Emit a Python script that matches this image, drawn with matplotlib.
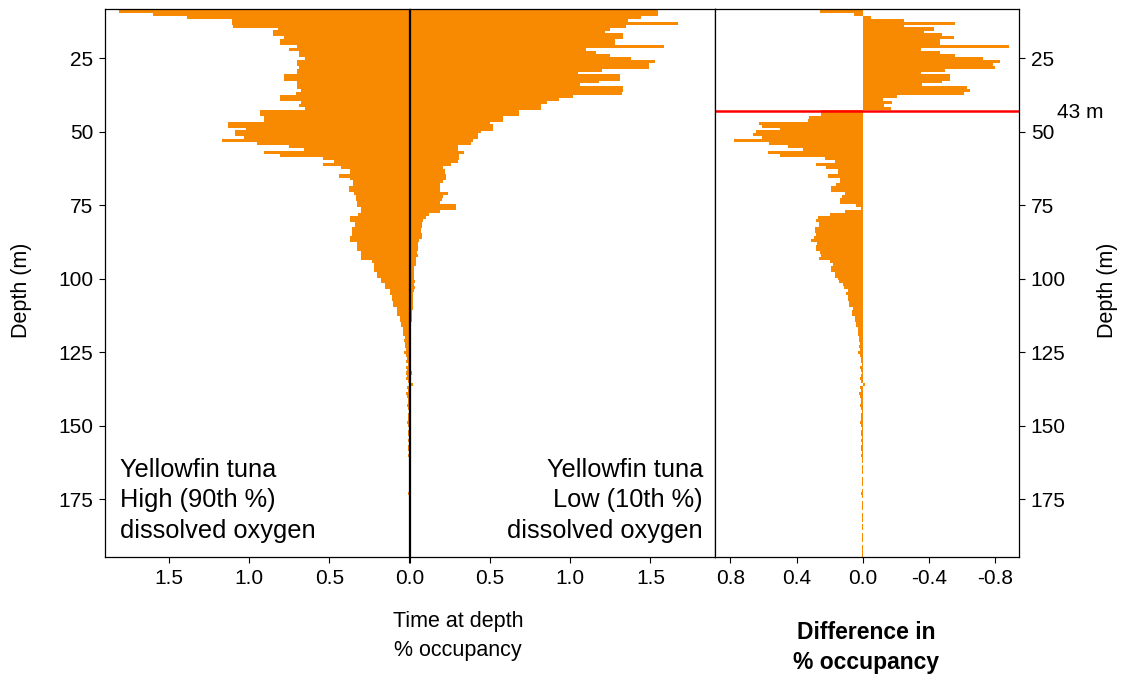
import numpy as np
import matplotlib.pyplot as plt

plt.rcParams['font.family'] = ['Liberation Sans', 'DejaVu Sans']

# 1 m depth bins
depth = np.arange(9, 195)

# % time at depth, yellowfin tuna, high (90th %) dissolved oxygen
high_do = [
    1.81, 1.60, 1.39, 1.11, 1.11, 1.10, 0.82, 0.85, 0.85, 0.78,
    0.81, 0.81, 0.70, 0.75, 0.69, 0.69, 0.65, 0.70, 0.70, 0.69,
    0.70, 0.70, 0.78, 0.78, 0.70, 0.70, 0.70, 0.68, 0.71, 0.81,
    0.81, 0.68, 0.69, 0.65, 0.93, 0.93, 0.91, 0.91, 1.13, 1.13,
    1.02, 1.09, 1.09, 1.03, 1.17, 0.95, 0.75, 0.66, 0.91, 0.81,
    0.54, 0.47, 0.54, 0.43, 0.37, 0.37, 0.44, 0.37, 0.35, 0.35,
    0.38, 0.38, 0.345, 0.335, 0.335, 0.33, 0.33, 0.30, 0.30, 0.32,
    0.37, 0.37, 0.34, 0.34, 0.36, 0.36, 0.36, 0.37, 0.37, 0.33,
    0.33, 0.33, 0.305, 0.305, 0.305, 0.235, 0.22, 0.22, 0.22, 0.20,
    0.20, 0.18, 0.18, 0.15, 0.15, 0.12, 0.12, 0.11, 0.11, 0.10,
    0.10, 0.08, 0.08, 0.08, 0.06, 0.06, 0.05, 0.05, 0.04, 0.04,
    0.04, 0.03, 0.035, 0.025, 0.03, 0.02, 0.035, 0.02, 0.015, 0.02,
    0.01, 0.02, 0.015, 0.02, 0.015, 0.02, 0.01, 0.005, 0.015, 0.01,
    0.02, 0.015, 0.01, 0.01, 0.015, 0.01, 0.005, 0.01, 0.01, 0.01,
    0.015, 0.01, 0.005, 0.01, 0.01, 0.005, 0.01, 0.005, 0.01, 0.01,
    0.005, 0.01, 0.004, 0.004, 0.0, 0.004, 0.004, 0.004, 0.0, 0.004,
    0.004, 0.004, 0.0, 0.004, 0.01, 0.004, 0.0, 0.004, 0.004, 0.004,
    0.0, 0.004, 0.004, 0.004, 0.0, 0.004, 0.004, 0.0, 0.004, 0.004,
    0.004, 0.0, 0.004, 0.004, 0.004, 0.004,
]

# % time at depth, low (10th %) dissolved oxygen
low_do = [
    1.55, 1.55, 1.44, 1.36, 1.67, 1.35, 1.25, 1.22, 1.33, 1.33,
    1.28, 1.28, 1.585, 1.10, 1.16, 1.25, 1.38, 1.53, 1.49, 1.49,
    1.20, 1.05, 1.31, 1.31, 1.18, 1.06, 1.33, 1.33, 1.32, 1.02,
    0.93, 0.855, 0.82, 0.82, 0.68, 0.68, 0.585, 0.58, 0.50, 0.52,
    0.52, 0.445, 0.424, 0.424, 0.393, 0.383, 0.30, 0.30, 0.337, 0.31,
    0.31, 0.30, 0.26, 0.207, 0.22, 0.22, 0.23, 0.23, 0.21, 0.19,
    0.19, 0.19, 0.24, 0.21, 0.20, 0.19, 0.29, 0.29, 0.19, 0.12,
    0.10, 0.085, 0.075, 0.075, 0.07, 0.07, 0.075, 0.075, 0.06, 0.055,
    0.05, 0.05, 0.045, 0.05, 0.04, 0.04, 0.04, 0.03, 0.03, 0.03,
    0.03, 0.03, 0.035, 0.03, 0.035, 0.03, 0.02, 0.02, 0.02, 0.02,
    0.02, 0.02, 0.015, 0.015, 0.015, 0.015, 0.01, 0.01, 0.01, 0.01,
    0.01, 0.005, 0.01, 0.01, 0.005, 0.003, 0.005, 0.003, 0.003, 0.01,
    0.005, 0.003, 0.003, 0.014, 0.003, 0.002, 0.002, 0.02, 0.0, 0.0,
] + [0.0] * 56

# difference high - low
diff = np.array(high_do) - np.array(low_do)

depth_ticks = [25, 50, 75, 100, 125, 150, 175]
orange = '#f78a00'
W, H = 1126, 676


def box(x0, x1, y0=9, y1=557):
    return [x0 / W, 1 - y1 / H, (x1 - x0) / W, (y1 - y0) / H]


fig = plt.figure(figsize=(W / 100, H / 100), dpi=100)
ax1 = fig.add_axes(box(105, 409.5))
ax2 = fig.add_axes(box(409.5, 714.7))
ax3 = fig.add_axes(box(714.7, 1019))

for ax, vals in ((ax1, high_do), (ax2, low_do), (ax3, diff)):
    # slight overlap so no seams show between neighbouring bins
    ax.barh(depth, vals, height=1.06, color=orange, linewidth=0)
    ax.set_ylim(194.6, 8.2)
    ax.tick_params(direction='out', length=4.5, width=0.8, labelsize=15, pad=4)
    for s in ax.spines.values():
        s.set_linewidth(0.9)

ax1.set_xlim(1.9, 0)
ax1.set_xticks([1.5, 1.0, 0.5, 0.0], ['1.5', '1.0', '0.5', '0.0'])
ax1.set_yticks(depth_ticks)

ax2.set_xlim(0, 1.9)
ax2.set_xticks([0.0, 0.5, 1.0, 1.5], ['', '0.5', '1.0', '1.5'])
ax2.set_yticks([])

ax3.set_xlim(0.895, -0.945)
ax3.set_xticks([0.8, 0.4, 0.0, -0.4, -0.8], ['0.8', '0.4', '0.0', '-0.4', '-0.8'])
ax3.set_yticks(depth_ticks)
ax3.yaxis.tick_right()
ax3.axhline(43, color='red', lw=1.8)

fig.text(1057 / W, 1 - 112 / H, '43 m', ha='left', va='center', fontsize=15)

fig.text(22 / W, 1 - 290 / H, 'Depth (m)', rotation=90, ha='center', va='center', fontsize=15.5)
fig.text(1107 / W, 1 - 290 / H, 'Depth (m)', rotation=90, ha='center', va='center', fontsize=15.5)

fig.text(458 / W, 1 - 611 / H, 'Time at depth\n% occupancy', ha='center', va='top',
         fontsize=15.5, linespacing=1.5)
fig.text(866 / W, 1 - 621 / H, 'Difference in\n% occupancy', ha='center', va='top',
         fontsize=16.5, fontweight='bold', linespacing=1.4)

fig.text(120 / W, 1 - 458 / H, 'Yellowfin tuna\nHigh (90th %)\ndissolved oxygen',
         ha='left', va='top', fontsize=18.3, linespacing=1.33)
fig.text(703 / W, 1 - 458 / H, 'Yellowfin tuna\nLow (10th %)\ndissolved oxygen',
         ha='right', va='top', multialignment='right', fontsize=18.3, linespacing=1.33)

fig.savefig('out.png', dpi=100)
